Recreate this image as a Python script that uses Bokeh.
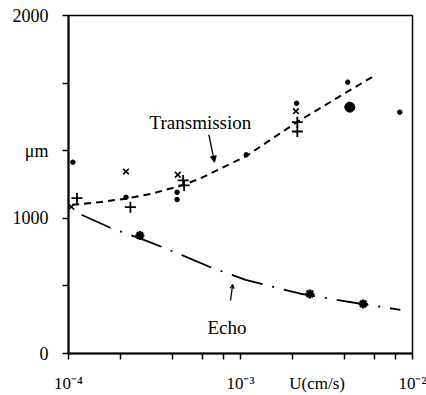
from bokeh.plotting import figure
from bokeh.models import FixedTicker, Label, Arrow, NormalHead, OpenHead, Range1d
from bokeh.embed import file_html
from bokeh.resources import INLINE

# ---- axis ticks / labels ----
# the axis title "U(cm/s)" sits on the tick-label row, between 10^-3 and 10^-2
x_label_ticks = [1e-4, 1e-3, 2.79e-3, 1e-2]
x_tick_labels = ["10⁻⁴", "10⁻³", "U(cm/s)", "10⁻²"]
x_tick_marks = [1e-4, 2e-4, 4e-4, 6e-4, 8e-4, 1e-3, 2e-3, 4e-3, 6e-3, 8e-3, 1e-2]
y_ticks = [0, 500, 1000, 1500, 2000, 2500]
y_tick_labels = ["0", "", "1000", "μm", "", "2000"]

# ---- transmission measurements ----
dot_u = [1.06e-4, 2.16e-4, 4.28e-4, 4.28e-4, 1.08e-3, 2.12e-3, 4.2e-3, 8.44e-3]
dot_v = [1415, 1156, 1193, 1139, 1470, 1851, 2007, 1785]
bigdot_u = [4.32e-3]
bigdot_v = [1822]
cross_u = [1.04e-4, 2.16e-4, 4.32e-4, 2.1e-3]
cross_v = [1085, 1346, 1322, 1792]
plus_u = [1.12e-4, 2.29e-4, 4.64e-4, 4.7e-4, 2.14e-3, 2.14e-3]
plus_v = [1149, 1082, 1280, 1243, 1711, 1642]

# ---- echo measurements ----
echo_u = [2.6e-4, 2.53e-3, 5.17e-3]
echo_v = [873, 441, 367]

# ---- fitted curves ----
trans_curve_u = [1.05e-4, 1.17e-4, 1.53e-4, 2.14e-4, 3.0e-4, 4.48e-4, 5.85e-4, 1.08e-3, 2.09e-3, 4.36e-3, 5.83e-3]
trans_curve_v = [1100, 1105, 1120, 1145, 1180, 1240, 1295, 1460, 1705, 1950, 2045]
echo_curve_u = [1.19e-4, 1.75e-4, 2.92e-4, 4.79e-4, 6.7e-4, 1.07e-3, 2.23e-3, 4.99e-3, 8.5e-3]
echo_curve_v = [1026, 930, 828, 717, 638, 545, 442, 368, 323]

SERIF = "Liberation Serif"

p = figure(width=426, height=395, x_axis_type="log",
           x_range=Range1d(1e-4, 1e-2), y_range=Range1d(0, 2500),
           output_backend="svg", toolbar_location=None,
           min_border_left=68, min_border_right=14,
           min_border_top=15, min_border_bottom=42)
p.grid.visible = False
p.background_fill_color = "white"
p.border_fill_color = "white"
p.outline_line_color = "black"
p.outline_line_width = 1.5
p.outline_line_alpha = 1.0

# x axis: labels on invisible major ticks, all visible ticks drawn as minor ticks
xa = p.xaxis[0]
xa.ticker = FixedTicker(ticks=x_label_ticks, minor_ticks=x_tick_marks)
xa.major_label_overrides = dict(zip(x_label_ticks, x_tick_labels))
xa.major_tick_out = 0
xa.major_tick_in = 0
xa.minor_tick_in = 0
xa.minor_tick_out = 6
xa.major_label_standoff = 14
# y axis
ya = p.yaxis[0]
ya.ticker = FixedTicker(ticks=y_ticks, minor_ticks=[])
ya.major_label_overrides = dict(zip(y_ticks, y_tick_labels))
ya.major_tick_in = 0
ya.major_tick_out = 6
ya.major_label_standoff = 14

for ax in (xa, ya):
    ax.axis_line_width = 2
    ax.axis_line_color = "black"
    ax.major_tick_line_width = 1.5
    ax.minor_tick_line_width = 1.5
    ax.major_tick_line_color = "black"
    ax.minor_tick_line_color = "black"
    ax.major_label_text_font = SERIF
    ax.major_label_text_color = "black"
xa.major_label_text_font_size = "17px"
ya.major_label_text_font_size = "18px"

# curves
p.line(trans_curve_u, trans_curve_v, line_color="black", line_width=2, line_dash="7 5")
p.line(echo_curve_u, echo_curve_v, line_color="black", line_width=1.8, line_dash="32 10 2 10")

# markers
p.scatter(dot_u, dot_v, marker="circle", size=4.5, color="black")
p.scatter(bigdot_u, bigdot_v, marker="circle", size=10, color="black")
p.scatter(cross_u, cross_v, marker="x", size=8, line_width=1.6, line_color="black")
p.scatter(plus_u, plus_v, marker="cross", size=11, line_width=1.8, line_color="black")
p.scatter(echo_u, echo_v, marker="asterisk", size=9, line_width=2.5, line_color="black")

# annotations
p.add_layout(Label(x=2.96e-4, y=1711, text="Transmission", text_font=SERIF,
                   text_font_size="19px", text_color="black", text_baseline="alphabetic"))
p.add_layout(Label(x=6.43e-4, y=190, text="Echo", text_font=SERIF,
                   text_font_size="19px", text_color="black", text_baseline="alphabetic"))

p.add_layout(Arrow(end=NormalHead(size=6, fill_color="black", line_color="black"),
                   x_start=6.55e-4, y_start=1618, x_end=7.06e-4, y_end=1415,
                   line_color="black", line_width=1.3))
p.add_layout(Arrow(end=OpenHead(size=4, line_color="black", line_width=1.2),
                   x_start=8.75e-4, y_start=392, x_end=9.0e-4, y_end=510,
                   line_color="black", line_width=1.3))

open("out.html", "w").write(file_html(p, INLINE))
